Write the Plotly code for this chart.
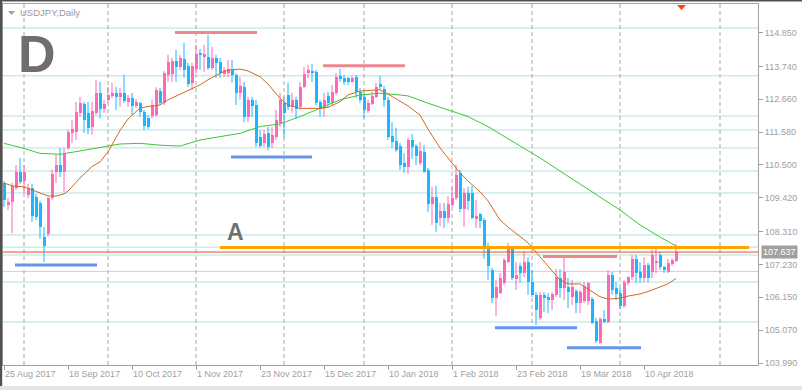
import plotly.graph_objects as go

# ---------------- data ----------------
tick_bars = [0, 16, 32, 48, 64, 80, 96, 112, 128, 144, 160]
tick_labels = ["25 Aug 2017", "18 Sep 2017", "10 Oct 2017", "1 Nov 2017", "23 Nov 2017",
               "15 Dec 2017", "10 Jan 2018", "1 Feb 2018", "23 Feb 2018", "19 Mar 2018",
               "10 Apr 2018"]
month_start_bars = [5, 26, 48, 70, 90, 112, 132, 154, 179]
price_ticks = [114.850, 113.740, 112.660, 111.580, 110.500, 109.420,
               108.310, 107.230, 106.150, 105.070, 103.990]

opens = [109.91, 109.18, 109.28, 109.74, 110.27, 109.97, 109.51, 109.74, 109.45, 109.25,
         108.14, 108.23, 109.41, 110.27, 110.50, 110.27, 111.06, 111.55, 111.59, 112.21,
         112.51, 112.21, 111.75, 112.21, 112.87, 112.34, 112.64, 112.77, 112.87, 112.74,
         112.87, 112.57, 112.70, 112.44, 112.54, 112.24, 112.04, 112.11, 112.14, 112.93,
         112.54, 113.46, 113.49, 113.92, 113.72, 113.98, 113.75, 113.20, 113.66, 114.18,
         114.05, 114.05, 113.69, 114.02, 113.89, 113.49, 113.52, 113.62, 113.46, 112.87,
         113.06, 112.08, 112.64, 112.47, 111.42, 111.22, 111.55, 111.22, 111.42, 111.88,
         112.54, 112.80, 112.41, 112.64, 112.41, 113.06, 113.52, 113.59, 113.56, 112.57,
         112.37, 112.77, 112.54, 112.87, 113.43, 113.36, 113.36, 113.23, 113.39, 112.90,
         112.74, 112.27, 112.51, 112.74, 113.16, 113.00, 112.64, 111.45, 111.29, 111.12,
         110.56, 110.43, 111.32, 111.12, 110.56, 110.93, 110.34, 109.22, 109.45, 108.76,
         108.99, 108.76, 109.18, 109.41, 110.24, 109.05, 109.58, 109.58, 108.72, 108.89,
         108.69, 107.84, 107.05, 106.13, 106.29, 106.62, 107.31, 107.77, 106.75, 107.18,
         106.95, 107.31, 106.65, 106.23, 105.47, 106.23, 106.16, 106.06, 106.23, 106.78,
         106.46, 106.49, 106.16, 106.36, 105.96, 106.03, 106.03, 106.09, 105.37, 104.65,
         105.44, 105.34, 106.88, 106.46, 106.29, 105.86, 106.62, 106.82, 107.41, 106.98,
         106.78, 107.21, 106.98, 107.28, 107.54, 107.15, 106.98, 107.24, 107.34]
highs = [109.97, 109.41, 109.91, 110.50, 110.73, 110.50, 109.88, 109.88, 109.55, 109.32,
         108.46, 109.45, 110.34, 110.83, 111.06, 111.06, 111.65, 111.98, 112.57, 112.74,
         112.57, 112.57, 112.57, 113.30, 113.23, 112.64, 113.06, 113.20, 113.06, 113.03,
         113.46, 112.80, 112.87, 112.67, 112.57, 112.31, 112.14, 112.64, 113.06, 113.03,
         113.59, 114.12, 114.02, 114.28, 114.12, 114.51, 113.85, 113.85, 114.45, 114.31,
         114.45, 114.77, 114.38, 114.12, 114.02, 113.72, 113.95, 113.95, 113.52, 113.39,
         113.23, 112.74, 112.74, 112.64, 111.65, 111.65, 111.75, 111.75, 112.31, 112.87,
         112.74, 113.20, 112.87, 112.74, 113.23, 113.72, 113.79, 113.82, 113.62, 112.64,
         112.87, 112.90, 113.13, 113.52, 113.66, 113.46, 113.39, 113.43, 113.46, 113.03,
         112.90, 112.64, 112.90, 113.20, 113.43, 113.10, 112.74, 111.91, 111.72, 111.22,
         110.89, 111.39, 111.52, 111.19, 111.26, 111.16, 110.40, 109.78, 109.81, 109.25,
         109.25, 109.48, 109.78, 110.50, 110.34, 109.74, 109.78, 109.81, 109.35, 108.92,
         108.76, 107.94, 107.11, 106.72, 106.95, 107.44, 107.94, 107.80, 107.31, 107.28,
         107.67, 107.47, 107.05, 106.32, 106.32, 106.32, 106.29, 106.32, 107.08, 107.08,
         107.47, 106.78, 106.72, 106.42, 106.39, 106.65, 106.65, 106.16, 105.47, 105.50,
         105.73, 107.05, 106.98, 106.65, 106.46, 106.72, 106.84, 107.54, 107.54, 107.31,
         107.47, 107.28, 107.71, 107.77, 107.64, 107.18, 107.41, 107.44, 107.90]
lows = [109.12, 109.02, 108.26, 109.68, 109.88, 109.58, 109.41, 108.63, 108.69, 108.07,
        107.31, 108.14, 109.35, 109.91, 110.10, 109.61, 110.99, 111.22, 111.32, 112.08,
        111.55, 111.52, 111.49, 112.14, 112.04, 112.21, 112.54, 112.70, 112.31, 112.41,
        112.54, 112.41, 112.14, 112.37, 112.08, 111.65, 111.68, 112.04, 112.08, 112.47,
        112.47, 113.23, 113.23, 113.23, 113.62, 113.36, 113.06, 112.97, 113.52, 113.62,
        113.56, 113.62, 113.62, 113.36, 113.36, 113.39, 113.39, 113.20, 112.47, 112.64,
        111.91, 111.91, 112.08, 111.09, 111.06, 111.09, 110.99, 111.06, 111.32, 111.75,
        111.39, 112.31, 112.21, 112.01, 112.31, 113.03, 113.36, 113.23, 112.47, 112.08,
        112.08, 112.41, 112.47, 112.80, 113.23, 113.13, 113.13, 113.20, 112.70, 112.54,
        112.04, 112.21, 112.47, 112.70, 112.97, 112.41, 111.32, 111.06, 110.93, 110.34,
        110.24, 110.20, 110.70, 110.50, 110.50, 110.24, 108.95, 108.53, 108.30, 108.49,
        108.43, 108.59, 109.12, 109.35, 108.95, 108.46, 109.02, 108.72, 108.43, 108.43,
        107.41, 106.72, 105.96, 105.53, 106.26, 106.55, 107.28, 106.72, 106.39, 106.62,
        106.82, 106.23, 106.16, 105.24, 105.40, 105.67, 105.63, 105.73, 106.16, 106.13,
        106.06, 105.80, 105.89, 105.63, 105.63, 105.96, 105.89, 105.27, 104.65, 104.62,
        105.30, 105.30, 106.23, 106.06, 105.76, 105.80, 106.55, 106.72, 106.62, 106.62,
        106.65, 106.65, 106.78, 106.95, 107.05, 106.95, 106.95, 107.18, 107.31]
closes = [109.35, 109.28, 109.81, 110.27, 109.94, 110.27, 109.74, 108.82, 108.79, 108.46,
          107.84, 109.41, 110.20, 110.50, 110.27, 110.86, 111.59, 111.68, 112.24, 112.54,
          111.98, 111.72, 112.27, 112.87, 112.34, 112.51, 112.80, 112.87, 112.74, 112.87,
          112.60, 112.70, 112.44, 112.57, 112.24, 111.78, 111.75, 112.47, 112.97, 112.54,
          113.52, 113.89, 113.92, 113.72, 114.02, 113.62, 113.16, 113.75, 114.15, 114.12,
          114.15, 113.69, 114.02, 113.85, 113.52, 113.62, 113.66, 113.46, 112.87, 113.10,
          112.08, 112.64, 112.44, 111.22, 111.12, 111.52, 111.09, 111.49, 111.98, 112.64,
          112.21, 112.41, 112.64, 112.34, 113.06, 113.49, 113.62, 113.52, 112.54, 112.34,
          112.64, 112.54, 112.90, 113.39, 113.33, 113.23, 113.23, 113.36, 112.90, 112.64,
          112.31, 112.54, 112.77, 113.06, 113.06, 112.64, 111.42, 111.26, 110.99, 110.50,
          110.43, 111.32, 111.09, 110.80, 110.96, 110.27, 109.22, 109.45, 108.59, 108.99,
          108.76, 109.22, 109.41, 110.17, 109.05, 109.58, 109.32, 108.76, 108.82, 108.66,
          107.80, 107.18, 106.13, 106.49, 106.78, 107.38, 107.77, 106.78, 106.88, 106.95,
          107.31, 106.65, 106.23, 105.73, 106.23, 106.13, 106.06, 106.26, 106.82, 106.46,
          106.98, 106.32, 106.49, 105.96, 106.32, 106.52, 106.62, 105.30, 104.71, 105.44,
          105.34, 106.88, 106.39, 106.26, 105.86, 106.65, 106.82, 107.41, 106.95, 106.78,
          107.21, 106.78, 107.54, 107.34, 107.15, 107.05, 107.28, 107.38, 107.637]

ma_fast_bars = [0, 2, 5, 7, 9, 11, 13, 15, 16, 19, 22, 24, 26, 29, 31, 34, 36, 39, 41, 44,
                46, 49, 51, 54, 56, 59, 61, 64, 66, 69, 71, 74, 79, 81, 84, 86, 89, 94, 96,
                99, 101, 104, 106, 109, 111, 114, 116, 119, 121, 124, 126, 129, 131, 134,
                136, 139, 141, 144, 146, 149, 151, 154, 156, 159, 161, 164, 166, 168]
ma_fast_vals = [109.91, 109.81, 109.78, 109.68, 109.58, 109.48, 109.48, 109.55, 109.64,
                110.07, 110.45, 110.60, 110.93, 111.63, 112.01, 112.37, 112.42, 112.47,
                112.64, 112.83, 112.93, 113.13, 113.30, 113.51, 113.62, 113.65, 113.59,
                113.40, 113.16, 112.69, 112.47, 112.36, 112.36, 112.39, 112.58, 112.80,
                112.93, 112.97, 112.83, 112.58, 112.44, 112.14, 111.68, 111.06, 110.73,
                110.24, 109.97, 109.62, 109.32, 108.69, 108.46, 108.14, 107.94, 107.48,
                107.18, 106.72, 106.59, 106.59, 106.42, 106.17, 106.09, 106.12, 106.19,
                106.26, 106.34, 106.48, 106.59, 106.77]
ma_slow_bars = [0, 4, 9, 14, 19, 24, 29, 34, 39, 44, 49, 54, 59, 64, 69, 74, 79, 84, 89,
                94, 99, 101, 106, 111, 116, 121, 124, 129, 134, 139, 144, 149, 154, 159,
                164, 168]
ma_slow_vals = [111.21, 111.08, 110.88, 110.85, 110.96, 111.08, 111.19, 111.21, 111.15,
                111.12, 111.32, 111.43, 111.54, 111.76, 111.85, 112.09, 112.36, 112.64,
                112.80, 112.86, 112.80, 112.77, 112.53, 112.31, 112.09, 111.76, 111.52,
                111.12, 110.73, 110.30, 109.88, 109.45, 109.02, 108.53, 108.13, 107.84]

level_lines = [115.00, 113.43, 112.11, 111.65, 111.06, 110.30, 109.58, 108.20, 107.80,
               107.54, 107.00, 106.65, 105.34]
resistance_segments = [(42.75, 63.25, 114.85), (79.75, 100.25, 113.76), (134.75, 153.25, 107.49)]
support_segments = [(2.75, 23.25, 107.21), (56.75, 77.0, 110.76),
                    (122.75, 143.25, 105.15), (140.75, 159.25, 104.49)]
level_a = (54.0, 186.25, 107.79)
bid_price = 107.637

n = len(opens)
if not (len(highs) == n and len(lows) == n and len(closes) == n):
    raise SystemExit("length mismatch %d %d %d %d" % (n, len(highs), len(lows), len(closes)))

# ---------------- styling ----------------
PINK = "#FF69B4"
BLUE = "#1CB6FF"
GREY = "#A0A0A0"
FONT = "Liberation Sans"

bars = list(range(n))
up = [i for i in bars if closes[i] >= opens[i]]
dn = [i for i in bars if closes[i] < opens[i]]

fig = go.Figure()


def wick_trace(idx, color):
    xs, ys = [], []
    for i in idx:
        xs += [i, i, None]
        ys += [lows[i], highs[i], None]
    return go.Scatter(x=xs, y=ys, mode="lines", line=dict(color=color, width=1),
                      hoverinfo="skip", showlegend=False)


def body_trace(idx, color):
    base = [min(opens[i], closes[i]) for i in idx]
    height = [max(abs(closes[i] - opens[i]), 0.033) for i in idx]
    return go.Bar(x=idx, y=height, base=base, width=0.75,
                  marker=dict(color=color, line=dict(width=0)),
                  hoverinfo="skip", showlegend=False)


fig.add_trace(wick_trace(up, PINK))
fig.add_trace(wick_trace(dn, BLUE))
fig.add_trace(body_trace(up, PINK))
fig.add_trace(body_trace(dn, BLUE))

fig.add_trace(go.Scatter(x=ma_slow_bars, y=ma_slow_vals, mode="lines",
                         line=dict(color="#3CC832", width=1), hoverinfo="skip", showlegend=False))
fig.add_trace(go.Scatter(x=ma_fast_bars, y=ma_fast_vals, mode="lines",
                         line=dict(color="#D2691E", width=1), hoverinfo="skip", showlegend=False))

shapes = []
for lv in level_lines:
    shapes.append(dict(type="line", xref="paper", x0=0, x1=1, yref="y", y0=lv, y1=lv,
                       line=dict(color="#B0E0E6", width=1), layer="below"))
for mb in month_start_bars:
    shapes.append(dict(type="line", xref="x", x0=mb, x1=mb, yref="paper", y0=0, y1=1,
                       line=dict(color="#A8A8A8", width=1, dash="4px,3px"), layer="below"))
for x0, x1, lv in resistance_segments:
    shapes.append(dict(type="line", xref="x", x0=x0, x1=x1, yref="y", y0=lv, y1=lv,
                       line=dict(color="#F0868E", width=3)))
for x0, x1, lv in support_segments:
    shapes.append(dict(type="line", xref="x", x0=x0, x1=x1, yref="y", y0=lv, y1=lv,
                       line=dict(color="#6495ED", width=3)))
shapes.append(dict(type="line", xref="x", x0=level_a[0], x1=level_a[1], yref="y",
                   y0=level_a[2], y1=level_a[2], line=dict(color="#FFA500", width=3)))
shapes.append(dict(type="line", xref="paper", x0=0, x1=1, yref="y", y0=bid_price, y1=bid_price,
                   line=dict(color="#E8501E", width=1)))
# window frame bits
W, H = 755.0, 361.0
shapes.append(dict(type="rect", xref="paper", yref="paper", x0=-3 / W, x1=-0.8 / W,
                   y0=-25 / H, y1=(365 + 0) / H, fillcolor="#505050", line=dict(width=0)))
shapes.append(dict(type="rect", xref="paper", yref="paper", x0=-3 / W, x1=799 / W,
                   y0=(365 - 1.6) / H, y1=365 / H, fillcolor="#505050", line=dict(width=0)))
shapes.append(dict(type="rect", xref="paper", yref="paper", x0=-3 / W, x1=799 / W,
                   y0=-25 / H, y1=-21 / H, fillcolor="#E4E4E4", line=dict(width=0)))
# shift marker
shapes.append(dict(type="path", xref="paper", yref="paper",
                   path="M %f,%f L %f,%f L %f,%f Z" % ((677 - 3) / W, (365 - 5) / H,
                                                      (686 - 3) / W, (365 - 5) / H,
                                                      (681.5 - 3) / W, (365 - 10) / H),
                   fillcolor="#FF4500", line=dict(width=0)))
# title dropdown triangle
shapes.append(dict(type="path", xref="paper", yref="paper",
                   path="M %f,%f L %f,%f L %f,%f Z" % ((8 - 3) / W, (365 - 11) / H,
                                                      (15 - 3) / W, (365 - 11) / H,
                                                      (11.5 - 3) / W, (365 - 15) / H),
                   fillcolor="#A0A0A0", line=dict(width=0)))

annotations = [
    dict(text="USDJPY,Daily", xref="paper", yref="paper", x=(18 - 3) / W, y=(365 - 13) / H,
         xanchor="left", yanchor="middle", showarrow=False,
         font=dict(family=FONT, size=9.5, color="#999999")),
    dict(text="D", xref="paper", yref="paper", x=(16 - 3) / W, y=(365 - 54) / H,
         xanchor="left", yanchor="middle", showarrow=False,
         font=dict(family=FONT, size=52, color="#6E6E6E", weight="bold")),
    dict(text="A", xref="x", yref="y", x=57.75, y=108.30, xanchor="center", yanchor="middle",
         showarrow=False, font=dict(family=FONT, size=23, color="#707070", weight="bold")),
    dict(text="%.3f" % bid_price, xref="paper", yref="y", x=1, y=bid_price, xanchor="left",
         yanchor="middle", xshift=3, showarrow=False, bgcolor=GREY, borderpad=1,
         font=dict(family=FONT, size=9, color="white")),
]

fig.update_layout(
    width=802, height=390,
    margin=dict(l=3, r=44, t=4, b=25),
    paper_bgcolor="white", plot_bgcolor="white",
    barmode="overlay", bargap=0, showlegend=False, hovermode=False,
    shapes=shapes, annotations=annotations,
    xaxis=dict(range=[-0.25, 188.5], showgrid=False, zeroline=False,
               tickmode="array", tickvals=tick_bars, ticktext=tick_labels,
               ticks="outside", ticklen=4, tickcolor=GREY,
               ticklabelposition="outside right",
               tickfont=dict(family=FONT, size=9, color=GREY),
               showline=True, mirror=True, linecolor=GREY, linewidth=1),
    yaxis=dict(range=[103.925, 115.79], side="right", showgrid=False, zeroline=False,
               tickmode="array", tickvals=price_ticks,
               ticktext=["%.3f" % v for v in price_ticks],
               ticks="outside", ticklen=4, tickcolor=GREY,
               tickfont=dict(family=FONT, size=9, color=GREY),
               showline=True, mirror=True, linecolor=GREY, linewidth=1),
)

fig.write_html("out.html", config={"displayModeBar": False},
               post_script="document.body.style.margin='0';document.body.style.padding='0';")
